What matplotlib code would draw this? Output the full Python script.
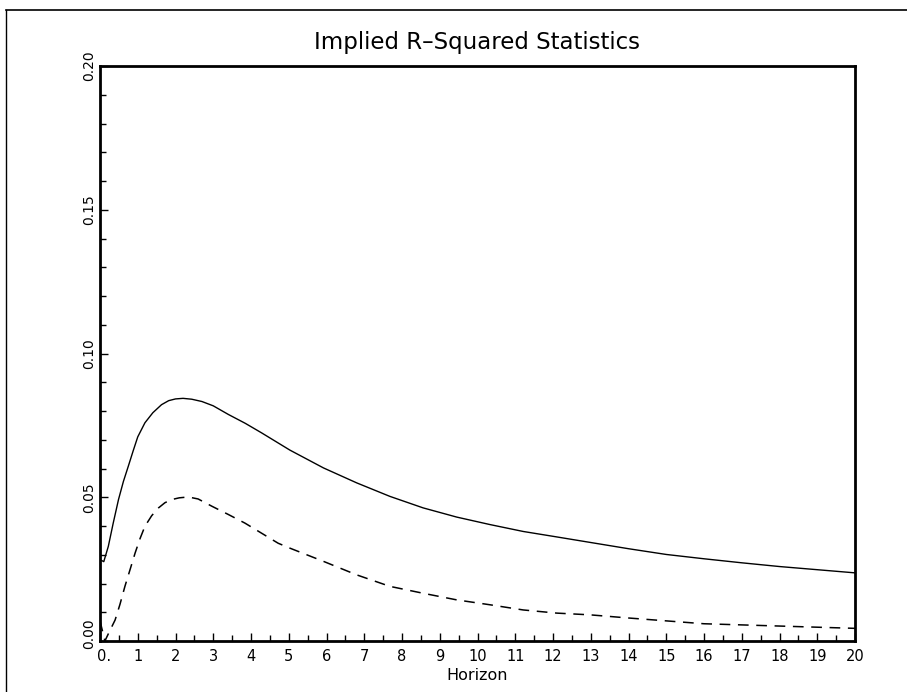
import matplotlib
matplotlib.use("Agg")
import matplotlib.pyplot as plt
from matplotlib.lines import Line2D
from matplotlib.ticker import MultipleLocator, FixedLocator
from matplotlib.transforms import ScaledTranslation

# ---- data ----
horizon_solid = [0.0, 0.1, 0.22, 0.35, 0.49, 0.62, 0.75, 0.88, 1.0, 1.19, 1.4, 1.63,
                 1.82, 2.0, 2.2, 2.43, 2.7, 3.0, 3.4, 3.85, 4.28, 5.03, 5.92, 6.80,
                 7.68, 8.56, 9.45, 10.33, 11.21, 12.10, 12.98, 14.0, 15.0, 16.0, 17.0,
                 18.0, 19.0, 20.0]
r2_solid = [0.0283, 0.0276, 0.0329, 0.0410, 0.0492, 0.0555, 0.0608, 0.0662, 0.0710,
            0.0759, 0.0794, 0.0822, 0.0836, 0.0842, 0.0844, 0.0841, 0.0833, 0.0818,
            0.0788, 0.0757, 0.0724, 0.0664, 0.0602, 0.0550, 0.0503, 0.0463, 0.0431,
            0.0405, 0.0381, 0.0362, 0.0343, 0.0321, 0.0301, 0.0286, 0.0272, 0.0259,
            0.0248, 0.0237]

horizon_dashed = [0.0, 0.13, 0.25, 0.4, 0.53, 0.66, 0.8, 0.93, 1.06, 1.19, 1.37, 1.55,
                  1.72, 1.90, 2.1, 2.34, 2.6, 2.96, 3.4, 3.84, 4.28, 4.72, 5.03, 5.92,
                  6.80, 7.68, 8.56, 9.45, 10.33, 11.21, 12.10, 12.98, 14.0, 15.0,
                  16.0, 17.0, 18.0, 19.0, 20.0]
r2_dashed = [0.0070, 0.0000, 0.0033, 0.0073, 0.0128, 0.0190, 0.0250, 0.0306, 0.0356,
             0.0399, 0.0436, 0.0463, 0.0481, 0.0492, 0.0498, 0.0501, 0.0494, 0.0469,
             0.0440, 0.0410, 0.0375, 0.0340, 0.0323, 0.0277, 0.0230, 0.0190, 0.0166,
             0.0143, 0.0126, 0.0108, 0.0097, 0.0091, 0.0080, 0.0070, 0.0060, 0.0056,
             0.0052, 0.0048, 0.0044]

x_ticks = list(range(0, 21))
x_tick_labels = ["0."] + [str(i) for i in range(1, 21)]
y_ticks = [0.00, 0.05, 0.10, 0.15, 0.20]
y_tick_labels = ["0.00", "0.05", "0.10", "0.15", "0.20"]

title = "Implied R\u2013Squared Statistics"
x_label = "Horizon"

# ---- figure ----
fig = plt.figure(figsize=(9.07, 6.92), dpi=100)
ax = fig.add_axes([100 / 907, 1 - 641 / 692, 755 / 907, 575 / 692])

ax.plot(horizon_solid, r2_solid, color="black", lw=1.0)
ax.plot(horizon_dashed, r2_dashed, color="black", lw=1.1, dashes=(7, 5))

ax.set_xlim(0, 20)
ax.set_ylim(0, 0.20)

ax.xaxis.set_major_locator(FixedLocator(x_ticks))
ax.set_xticklabels(x_tick_labels, fontsize=10.5)
ax.xaxis.set_minor_locator(MultipleLocator(0.5))
ax.yaxis.set_major_locator(FixedLocator(y_ticks))
ax.set_yticklabels(y_tick_labels, fontsize=10, rotation=90, va="center")
ax.yaxis.set_minor_locator(MultipleLocator(0.01))

ax.tick_params(axis="both", which="major", direction="in", length=6, width=1.0,
               top=False, right=False)
ax.tick_params(axis="both", which="minor", direction="in", length=4, width=1.0,
               top=False, right=False)
ax.tick_params(axis="x", which="major", pad=6)
ax.tick_params(axis="y", which="major", pad=3)

# nudge first labels as in the reference
first_x = ax.get_xticklabels()[0]
first_x.set_transform(first_x.get_transform() + ScaledTranslation(4 / 100, 0, fig.dpi_scale_trans))
first_y = ax.get_yticklabels()[0]
first_y.set_transform(first_y.get_transform() + ScaledTranslation(0, 7 / 100, fig.dpi_scale_trans))

for s in ax.spines.values():
    s.set_linewidth(2.0)
    s.set_color("black")

ax.set_title(title, fontsize=16.5, pad=12)
ax.set_xlabel(x_label, fontsize=11.5, labelpad=3)

# outer frame lines (scanned page border)
fig.add_artist(Line2D([6 / 907, 1.0], [1 - 10 / 692, 1 - 10 / 692],
                      transform=fig.transFigure, color="black", lw=1.2))
fig.add_artist(Line2D([6 / 907, 6 / 907], [0.0, 1 - 10 / 692],
                      transform=fig.transFigure, color="black", lw=1.0))

fig.savefig("out.png", dpi=100)
